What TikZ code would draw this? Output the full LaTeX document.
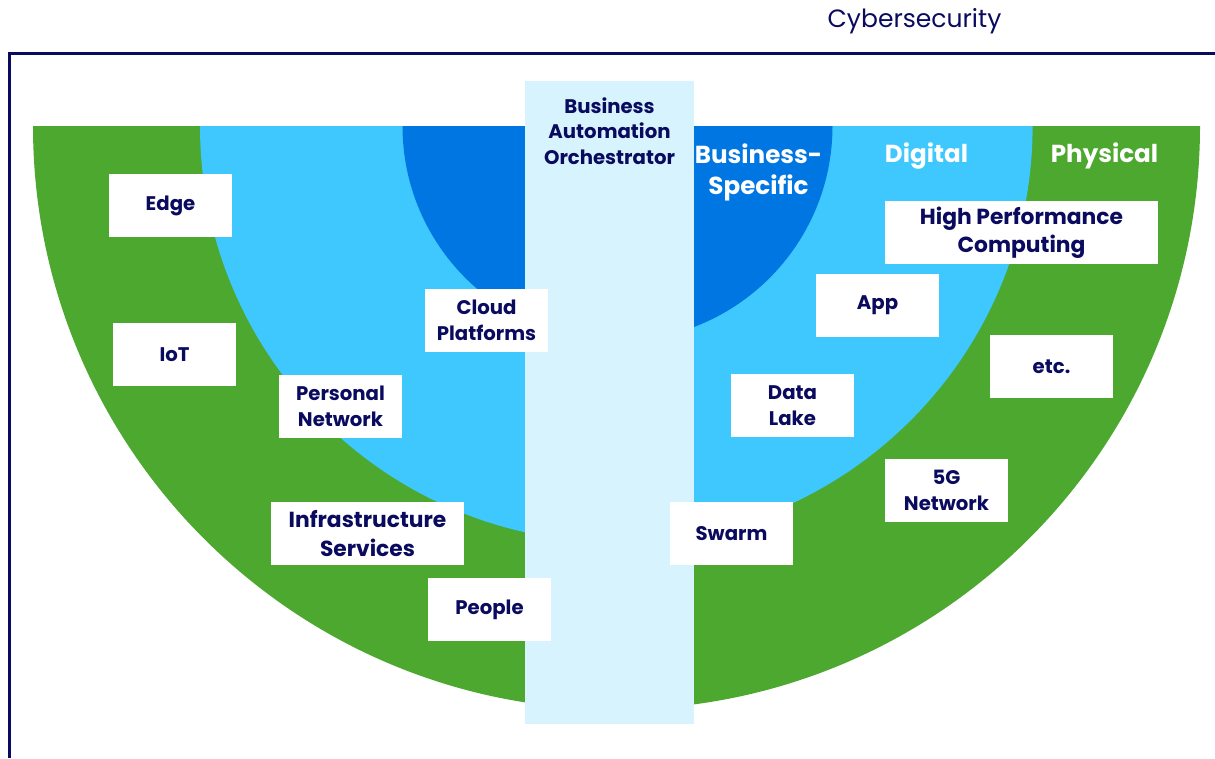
\documentclass[tikz,border=0pt]{standalone}
\usepackage{fontspec}
\setmainfont{Poppins}
\usetikzlibrary{positioning}

\definecolor{navy}{HTML}{0A0A5F}
\definecolor{physgreen}{HTML}{4CA82E}
\definecolor{digiblue}{HTML}{3EC8FD}
\definecolor{bizblue}{HTML}{0076E3}
\definecolor{stripblue}{HTML}{D7F3FD}

\tikzset{
  itembox/.style={fill=white,inner sep=0pt,minimum width=3.075cm,minimum height=1.575cm,
    align=center,text=navy,font=\bfseries\fontsize{14}{18.5}\selectfont},
  widebox/.style={itembox,font=\bfseries\fontsize{15.5}{20}\selectfont},
  ringlabel/.style={text=white,align=center,font=\bfseries\fontsize{17.5}{22}\selectfont}
}

\begin{document}
\begin{tikzpicture}[x=0.025cm,y=-0.025cm]
\useasboundingbox (0,0) rectangle (1215,758);
\draw[navy,line width=2.8pt] (9.5,758) -- (9.5,53.5) -- (1215,53.5);
\node[text=navy,font=\fontsize{17.8}{20}\selectfont] (cyber) at (914.5,21) {Cybersecurity};

\begin{scope}
\clip (0,126) rectangle (1215,758);
\fill[physgreen] (616.5,126) circle[radius=583.5];
\fill[digiblue] (616.3,126) circle[radius=416.3];
\fill[bizblue] (617.5,126) circle[radius=215];
\end{scope}
\fill[stripblue] (525,81) rectangle (694,724);

\node[text=navy,align=center,font=\bfseries\fontsize{14}{18}\selectfont] (bao) at (609.5,131) {Business\\Automation\\Orchestrator};
\node[ringlabel] (bizspec) at (758.5,172) {Business-\\Specific};
\node[ringlabel] (digital) at (926.5,156) {Digital};
\node[ringlabel] (physical) at (1104.5,156) {Physical};

% left side
\node[itembox] (edge) at (170.5,205.5) {Edge};
\node[itembox] (iot) at (174.5,354.5) {IoT};
\node[itembox] (pnet) at (340.5,406.5) {Personal\\Network};
\node[widebox,minimum width=4.825cm] (infra) at (367.5,533.5) {Infrastructure\\Services};
\node[itembox] (people) at (489.5,609.5) {People};
\node[itembox] (cloud) at (486.5,320.5) {Cloud\\Platforms};

% right side
\node[widebox,minimum width=6.825cm] (hpc) at (1021.5,232.5) {High Performance\\Computing};
\node[itembox] (app) at (877.5,305.5) {App};
\node[itembox] (etc) at (1051.5,366.5) {etc.};
\node[itembox] (lake) at (792.5,405.5) {Data\\Lake};
\node[itembox] (fiveg) at (946.5,490.5) {5G\\Network};
\node[itembox] (swarm) at (731.5,533.5) {Swarm};

\end{tikzpicture}
\end{document}
